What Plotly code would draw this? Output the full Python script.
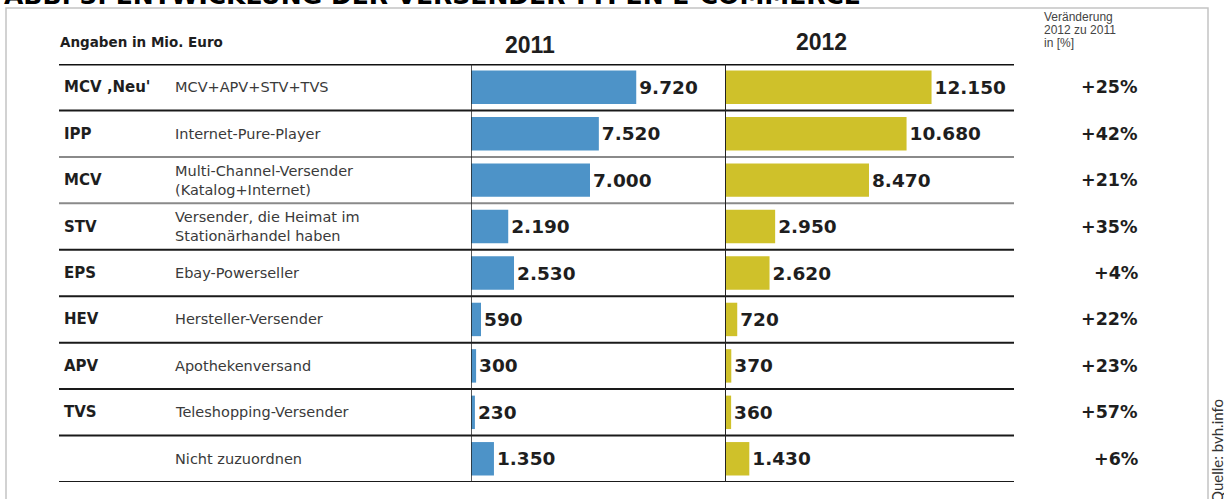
import plotly.graph_objects as go

W, H = 1224, 499

# ---------------- data ----------------
abbrevs = ["MCV \u201aNeu'", "IPP", "MCV", "STV", "EPS", "HEV", "APV", "TVS", ""]
descriptions = [
    "MCV+APV+STV+TVS",
    "Internet-Pure-Player",
    "Multi-Channel-Versender<br>(Katalog+Internet)",
    "Versender, die Heimat im<br>Stationärhandel haben",
    "Ebay-Powerseller",
    "Hersteller-Versender",
    "Apothekenversand",
    "Teleshopping-Versender",
    "Nicht zuzuordnen",
]
values_2011 = [9720, 7520, 7000, 2190, 2530, 590, 300, 230, 1350]
values_2012 = [12150, 10680, 8470, 2950, 2620, 720, 370, 360, 1430]
change_pct = ["+25%", "+42%", "+21%", "+35%", "+4%", "+22%", "+23%", "+57%", "+6%"]
years = ["2011", "2012"]
unit_label = "Angaben in Mio. Euro"
change_header = ["Veränderung", "2012 zu 2011", "in [%]"]
title = "ABB. 3: ENTWICKLUNG DER VERSENDER-TYPEN E-COMMERCE"
source = "Quelle: bvh.info"

BLUE = "#4d93c8"
YELLOW = "#cfc12a"
TXT = "#1e1e1e"

def px(x):
    return x / W

def py(y):
    return 1 - y / H

PX_PER_UNIT = 0.0170
x1_left, x1_right = 471, 724
x2_left, x2_right = 725, 1014
row_top, row_bot = 64, 482

fig = go.Figure()

fig.add_trace(go.Bar(
    x=values_2011, y=descriptions, orientation="h",
    xaxis="x", yaxis="y", width=0.72,
    marker=dict(color=BLUE, line=dict(width=0)),
    text=values_2011, texttemplate="%{x:,}", textposition="outside",
    textfont=dict(family="DejaVu Sans", size=18.5, color=TXT, weight="bold"),
    cliponaxis=False, constraintext="none", hoverinfo="skip",
))
fig.add_trace(go.Bar(
    x=values_2012, y=descriptions, orientation="h",
    xaxis="x2", yaxis="y", width=0.72,
    marker=dict(color=YELLOW, line=dict(width=0)),
    text=values_2012, texttemplate="%{x:,}", textposition="outside",
    textfont=dict(family="DejaVu Sans", size=18.5, color=TXT, weight="bold"),
    cliponaxis=False, constraintext="none", hoverinfo="skip",
))

hidden = dict(showgrid=False, zeroline=False, showticklabels=False, showline=False, ticks="")
n = len(descriptions)

fig.update_layout(
    width=W, height=H,
    margin=dict(l=0, r=0, t=0, b=0),
    paper_bgcolor="white", plot_bgcolor="rgba(0,0,0,0)",
    showlegend=False,
    separators=",.",
    font=dict(family="DejaVu Sans", color=TXT),
    xaxis=dict(domain=[px(x1_left), px(x1_right)],
               range=[0, (x1_right - x1_left) / PX_PER_UNIT], anchor="y", **hidden),
    xaxis2=dict(domain=[px(x2_left), px(x2_right)],
                range=[0, (x2_right - x2_left) / PX_PER_UNIT], anchor="y", **hidden),
    yaxis=dict(domain=[py(row_bot), py(row_top)], type="category",
               categoryorder="array", categoryarray=descriptions,
               range=[n - 0.5, -0.5], **hidden),
)

shapes = []
# outer frame
shapes.append(dict(type="rect", xref="paper", yref="paper",
                   x0=px(6), x1=px(1208), y0=-0.2, y1=py(8),
                   line=dict(color="#c4c4c4", width=1.5), fillcolor="rgba(0,0,0,0)", layer="below"))
# horizontal row lines
for i in range(-1, n):
    if i == -1:
        w, c = 3, "#111111"
    elif i in (1, 2):
        w, c = 2, "#8a8a8a"
    else:
        w, c = 2, "#1a1a1a"
    shapes.append(dict(type="line", xref="paper", yref="y",
                       x0=px(59), x1=px(1014), y0=i + 0.5, y1=i + 0.5,
                       line=dict(color=c, width=w), layer="above"))
# vertical lines at bar bases
shapes.append(dict(type="line", xref="x", yref="y", x0=0, x1=0, y0=-0.5, y1=n - 0.5,
                   line=dict(color="#222222", width=1.5)))
shapes.append(dict(type="line", xref="x2", yref="y", x0=0, x1=0, y0=-0.5, y1=n - 0.5,
                   line=dict(color="#222222", width=2)))
fig.update_layout(shapes=shapes)

ann = []
# title (clipped at top edge)
ann.append(dict(text=title, x=px(2), y=py(12), xref="paper", yref="paper",
                xanchor="left", yanchor="bottom", showarrow=False,
                font=dict(family="DejaVu Sans", size=25, color="#000000", weight="bold")))
# unit label
ann.append(dict(text=unit_label, x=px(58), y=py(42), xref="paper", yref="paper",
                xanchor="left", yanchor="middle", showarrow=False,
                font=dict(family="DejaVu Sans", size=13.5, color=TXT, weight="bold")))
# year headers
for yr, cx, cy in zip(years, [530, 822], [45, 42]):
    ann.append(dict(text=yr, x=px(cx), y=py(cy), xref="paper", yref="paper",
                    xanchor="center", yanchor="middle", showarrow=False,
                    font=dict(family="Liberation Sans", size=23, color=TXT, weight="bold")))
# change header (three lines)
for k, line in enumerate(change_header):
    ann.append(dict(text=line, x=px(1043), y=py(17 + 13 * k), xref="paper", yref="paper",
                    xanchor="left", yanchor="middle", showarrow=False, borderpad=0,
                    font=dict(family="Liberation Sans", size=12, color="#444444")))
# row labels
for a, d, p in zip(abbrevs, descriptions, change_pct):
    if a:
        ann.append(dict(text=a, x=px(62), y=d, xref="paper", yref="y",
                        xanchor="left", yanchor="middle", showarrow=False,
                        font=dict(family="DejaVu Sans", size=15, color=TXT, weight="bold")))
    ann.append(dict(text=d, x=px(173), y=d, xref="paper", yref="y",
                    xanchor="left", yanchor="middle", showarrow=False, align="left",
                    font=dict(family="DejaVu Sans", size=14.5, color="#3a3a3a")))
    ann.append(dict(text=p, x=px(1140), y=d, xref="paper", yref="y",
                    xanchor="right", yanchor="middle", showarrow=False,
                    font=dict(family="DejaVu Sans", size=17.5, color=TXT, weight="bold")))
# source (rotated, clipped at bottom)
ann.append(dict(text=source, x=px(1217), y=py(505), xref="paper", yref="paper",
                xanchor="center", yanchor="bottom", textangle=-90, showarrow=False,
                font=dict(family="Lato", size=15, color="#333333")))
fig.update_layout(annotations=ann)

fig.write_html("out.html")
